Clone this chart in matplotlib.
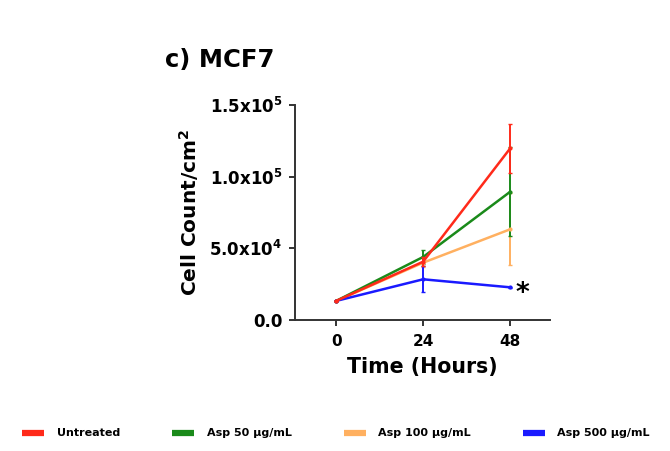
import matplotlib
matplotlib.use("Agg")
import matplotlib.pyplot as plt
from matplotlib.lines import Line2D

plt.rcParams['font.family'] = ['DejaVu Sans']
plt.rcParams['mathtext.fontset'] = 'custom'
plt.rcParams['mathtext.rm'] = 'DejaVu Sans:bold'
plt.rcParams['mathtext.bf'] = 'DejaVu Sans:bold'
plt.rcParams['mathtext.it'] = 'DejaVu Sans:bold'

hours = [0, 24, 48]
series = ["Untreated", "Asp 50 µg/mL", "Asp 100 µg/mL", "Asp 500 µg/mL"]
untreated = [13300, 40700, 119800]
untreated_err = [0, 3000, 17000]
asp50 = [13300, 44000, 89500]
asp50_err = [0, 5000, 31000]
asp100 = [13300, 40000, 63300]
asp100_err = [0, 3000, 25000]
asp500 = [13300, 28400, 22800]
asp500_err = [0, 9000, 500]
colors = ["#ff2a1a", "#1a8a1a", "#ffb060", "#1a1aff"]

yticks = [0, 50000, 100000, 150000]
yticklabels = ["0.0", r"5.0x10$^4$", r"1.0x10$^5$", r"1.5x10$^5$"]

fig = plt.figure(figsize=(6.7, 4.51), dpi=100)
ax = fig.add_axes([0.440, 0.2905, 0.381, 0.4765])

data = [(untreated, untreated_err), (asp50, asp50_err), (asp100, asp100_err), (asp500, asp500_err)]
order = [2, 1, 3, 0]
for i in order:
    vals, err = data[i]
    ax.errorbar(hours, vals, yerr=err, color=colors[i], lw=1.8, capsize=1.5,
                elinewidth=1.4, marker='o', ms=2, zorder=3 + (1 if i == 0 else 0))

ax.annotate("*", xy=(hours[2], asp500[2]), xytext=(4, -5), textcoords='offset points',
            fontsize=19, fontweight='bold', va='center', ha='left')

ax.set_xlim(-11.4, 59)
ax.set_ylim(0, 150000)
ax.set_xticks(hours)
ax.set_xticklabels([str(h) for h in hours], fontsize=11, fontweight='bold')
ax.set_yticks(yticks)
ax.set_yticklabels(yticklabels, fontsize=12, fontweight='bold')
for s in ['top', 'right']:
    ax.spines[s].set_visible(False)
for s in ['left', 'bottom']:
    ax.spines[s].set_linewidth(1.4)
    ax.spines[s].set_color('#333333')
ax.tick_params(axis='both', length=4, width=1.4, color='#333333', pad=6)
ax.tick_params(axis='y', pad=5)
ax.set_ylabel(r"Cell Count/cm$^2$", fontsize=14.5, fontweight='bold', labelpad=6)
ax.set_xlabel("Time (Hours)", fontsize=14.8, fontweight='bold', labelpad=6)

fig.text(0.246, 0.867, "c) MCF7", fontsize=17.5, fontweight='bold', ha='left', va='center')

handles = [Line2D([0], [0], color=c, lw=4.5, solid_capstyle='butt') for c in colors]
fig.legend(handles, series, loc='center', bbox_to_anchor=(0.5015, 0.039), ncol=4,
           frameon=False, prop={'weight': 'bold', 'size': 8}, handlelength=2.0,
           columnspacing=4.7, handletextpad=1.1)

fig.savefig("out.png", dpi=100)
